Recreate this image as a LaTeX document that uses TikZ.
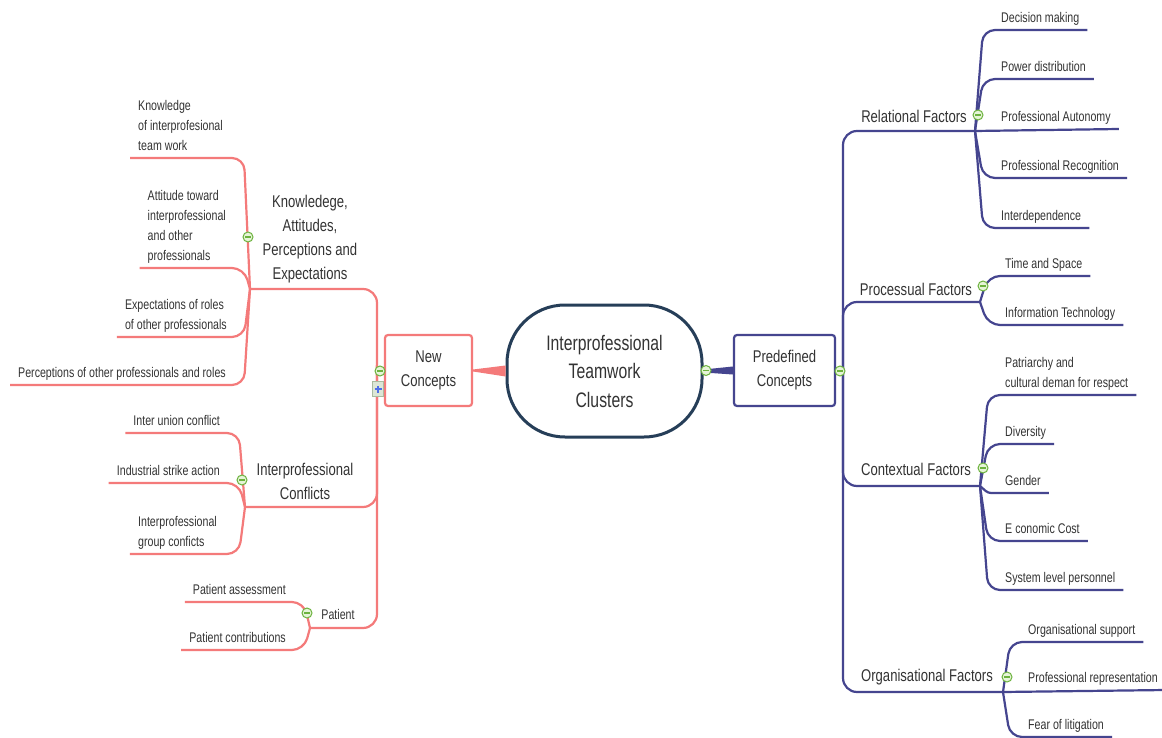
\documentclass[tikz,border=0pt]{standalone}
\usepackage{fontspec}
\newfontfamily\smfont[FakeStretch=0.76]{Liberation Sans}
\newfontfamily\mdfont[FakeStretch=0.77]{Liberation Sans}
\newfontfamily\bgfont[FakeStretch=0.75]{Liberation Sans}
\definecolor{salm}{HTML}{F47A7A}
\definecolor{navy}{HTML}{45458F}
\definecolor{hubc}{HTML}{263E58}
\definecolor{txt}{HTML}{333333}
\definecolor{icongreen}{HTML}{6DB33F}
\definecolor{iconfill}{HTML}{E6F4D8}
\definecolor{plusfill}{HTML}{DCE6D6}
\definecolor{plusedge}{HTML}{A9BBA0}
\definecolor{plusblue}{HTML}{4F6FE8}
\begin{document}
\begin{tikzpicture}[x=1pt,y=-1pt,
  smallf/.style={font={\smfont\fontsize{14}{20}\selectfont}},
  midf/.style={font={\mdfont\fontsize{17}{24}\selectfont}},
  bigf/.style={font={\bgfont\fontsize{21}{28.5}\selectfont}},
  lbl/.style={smallf, text=txt, inner xsep=0pt, inner ysep=1pt, align=left},
  rleaf/.style={lbl, anchor=south west},
  lleaf/.style={lbl, anchor=south east},
  mid/.style={midf, text=txt, inner sep=0pt, align=center},
  hub/.style={draw=hubc, fill=white, line width=3pt, rounded corners=58pt,
    minimum width=195pt, minimum height=132pt, align=center, bigf, text=txt},
  box/.style={fill=white, line width=2.2pt, rounded corners=3pt,
    minimum width=87pt, minimum height=71pt, align=center, midf, text=txt},
  sline/.style={draw=salm, line width=2.2pt, rounded corners=12pt},
  nline/.style={draw=navy, line width=2.2pt, rounded corners=12pt},
  tog/.style={circle, draw=icongreen, fill=iconfill, line width=1pt,
    minimum size=10pt, inner sep=0pt,
    path picture={\draw[icongreen, line width=1.3pt]
      ([xshift=-2.6pt]path picture bounding box.center) --
      ([xshift=2.6pt]path picture bounding box.center);}},
  plusbox/.style={rectangle, draw=plusedge, fill=plusfill, line width=0.8pt,
    minimum width=11pt, minimum height=15pt, inner sep=0pt,
    path picture={\draw[plusblue, line width=1.5pt]
      ([xshift=-3.5pt]path picture bounding box.center) --
      ([xshift=3.5pt]path picture bounding box.center)
      ([yshift=-3.5pt]path picture bounding box.center) --
      ([yshift=3.5pt]path picture bounding box.center);}}
]
\fill[white] (0,0) rectangle (1162,738);
\useasboundingbox (0,0) rectangle (1162,738);

% central topic and the two main branches
\node[hub] (hub) at (604.5,371) {Interprofessional\\Teamwork\\Clusters};
\node[box, draw=salm] (nc) at (428.5,370.5) {New\\Concepts};
\node[box, draw=navy, minimum width=101pt] (pc) at (784.5,370.5) {Predefined\\Concepts};

\fill[salm] ([yshift=1pt]nc.east) -- ([yshift=5.5pt]hub.west)
  -- ([yshift=-5.5pt]hub.west) -- ([yshift=-1pt]nc.east) -- cycle;
\fill[navy] ([yshift=1.5pt]hub.east) -- ([yshift=4pt]pc.west)
  -- ([yshift=-4pt]pc.west) -- ([yshift=-1.5pt]hub.east) -- cycle;

% ---------- left side: new concepts ----------
\coordinate (kJ) at (250,289);
\coordinate (cJ) at (245,507);
\coordinate (pJ) at (310,628);

\node[mid] (kap) at (310,239) {Knowledege,\\Attitudes,\\Perceptions and\\Expectations};
\node[mid] (con) at (305,481) {Interprofessional\\Conflicts};
\node[smallf, text=txt, inner sep=0pt] (pat) at (338,614) {Patient};

\node[lleaf] (k1) at (223,158) {Knowledge\\of interprofesional\\team work\strut};
\node[lleaf] (k2) at (226,268) {Attitude toward\\interprofessional\\and other\\professionals\strut};
\node[lleaf] (k3) at (227,337) {Expectations of roles\\of other professionals\strut};
\node[lleaf] (k4) at (226,385) {Perceptions of other professionals and roles\strut};

\node[lleaf] (c1) at (220,433) {Inter union conflict\strut};
\node[lleaf] (c2) at (220,483) {Industrial strike action\strut};
\node[lleaf] (c3) at (217,554) {Interprofessional\\group conficts\strut};

\node[lleaf] (a1) at (286,602) {Patient assessment\strut};
\node[lleaf] (a2) at (286,650) {Patient contributions\strut};

\draw[sline, rounded corners=14pt] (nc.west) .. controls (377,370.5) .. (377,358) -- (377,289) -- (kJ);
\draw[sline, rounded corners=14pt] (nc.west) .. controls (377,370.5) .. (377,383) -- (377,507) -- (cJ);
\draw[sline, rounded corners=14pt] (nc.west) .. controls (377,370.5) .. (377,383) -- (377,628) -- (pJ);

\foreach \n in {k1,k2,k3,k4}
  \draw[sline] (kJ) -- ([xshift=-6pt]kJ |- \n.south) -- ([xshift=-8pt]\n.south west);
\foreach \n in {c1,c2,c3}
  \draw[sline] (cJ) -- ([xshift=-6pt]cJ |- \n.south) -- ([xshift=-8pt]\n.south west);
\foreach \n in {a1,a2}
  \draw[sline] (pJ) -- ([xshift=-6pt]pJ |- \n.south) -- ([xshift=-8pt]\n.south west);

% ---------- right side: predefined concepts ----------
\coordinate (rJ) at (975,131);
\coordinate (prJ) at (980,302);
\coordinate (ctJ) at (980,486);
\coordinate (oJ) at (1003,692);

\node[mid] (rel) at (914,116) {Relational Factors};
\node[mid] (pro) at (916,289) {Processual Factors};
\node[mid] (ctx) at (916,469) {Contextual Factors};
\node[mid] (org) at (927,677) {Organisational Factors};

\node[rleaf] (r1) at (1001,30) {Decision making\strut};
\node[rleaf] (r2) at (1001,79) {Power distribution\strut};
\node[rleaf] (r3) at (1001,129) {Professional Autonomy\strut};
\node[rleaf] (r4) at (1001,178) {Professional Recognition\strut};
\node[rleaf] (r5) at (1001,228) {Interdependence\strut};

\node[rleaf] (s1) at (1005,276) {Time and Space\strut};
\node[rleaf] (s2) at (1005,325) {Information Technology\strut};

\node[rleaf] (t1) at (1005,395) {Patriarchy and\\cultural deman for respect\strut};
\node[rleaf] (t2) at (1005,444) {Diversity\strut};
\node[rleaf] (t3) at (1005,493) {Gender\strut};
\node[rleaf] (t4) at (1005,541) {E conomic Cost\strut};
\node[rleaf] (t5) at (1005,590) {System level personnel\strut};

\node[rleaf] (o1) at (1028,642) {Organisational support\strut};
\node[rleaf] (o2) at (1028,690) {Professional representation\strut};
\node[rleaf] (o3) at (1028,737) {Fear of litigation\strut};

\draw[nline, rounded corners=14pt] (pc.east) .. controls (843,370.5) .. (843,357) -- (843,131) -- (rJ);
\draw[nline, rounded corners=14pt] (pc.east) .. controls (843,370.5) .. (843,357) -- (843,302) -- (prJ);
\draw[nline, rounded corners=14pt] (pc.east) .. controls (843,370.5) .. (843,384) -- (843,486) -- (ctJ);
\draw[nline, rounded corners=14pt] (pc.east) .. controls (843,370.5) .. (843,384) -- (843,692) -- (oJ);

\foreach \n in {r1,r2,r4,r5}
  \draw[nline] (rJ) -- ([xshift=8pt]rJ |- \n.south) -- ([xshift=8pt]\n.south east);
\draw[nline] (rJ) -- ([xshift=8pt]r3.south east);
\foreach \n in {s1,s2}
  \draw[nline] (prJ) -- ([xshift=8pt]prJ |- \n.south) -- ([xshift=8pt]\n.south east);
\foreach \n in {t1,t2,t4,t5}
  \draw[nline] (ctJ) -- ([xshift=8pt]ctJ |- \n.south) -- ([xshift=8pt]\n.south east);
\draw[nline, rounded corners=3pt] (ctJ) -- ([xshift=8pt]ctJ |- t3.south) -- ([xshift=8pt]t3.south east);
\foreach \n in {o1,o3}
  \draw[nline] (oJ) -- ([xshift=7pt]oJ |- \n.south) -- ([xshift=8pt]\n.south east);
\draw[nline] (oJ) -- ([xshift=8pt]o2.south east);

% ---------- collapse / expand toggles ----------
\node[tog] (g1) at (380,371) {};
\node[plusbox] (g2) at (378,389) {};
\node[tog] (g3) at (706,370.5) {};
\node[tog] (g4) at (840,371) {};
\node[tog] (g5) at (248,237) {};
\node[tog] (g6) at (242,480) {};
\node[tog] (g7) at (307,613) {};
\node[tog] (g8) at (978,115) {};
\node[tog] (g9) at (983,286) {};
\node[tog] (g10) at (983,468) {};
\node[tog] (g11) at (1007,677) {};
\end{tikzpicture}
\end{document}
